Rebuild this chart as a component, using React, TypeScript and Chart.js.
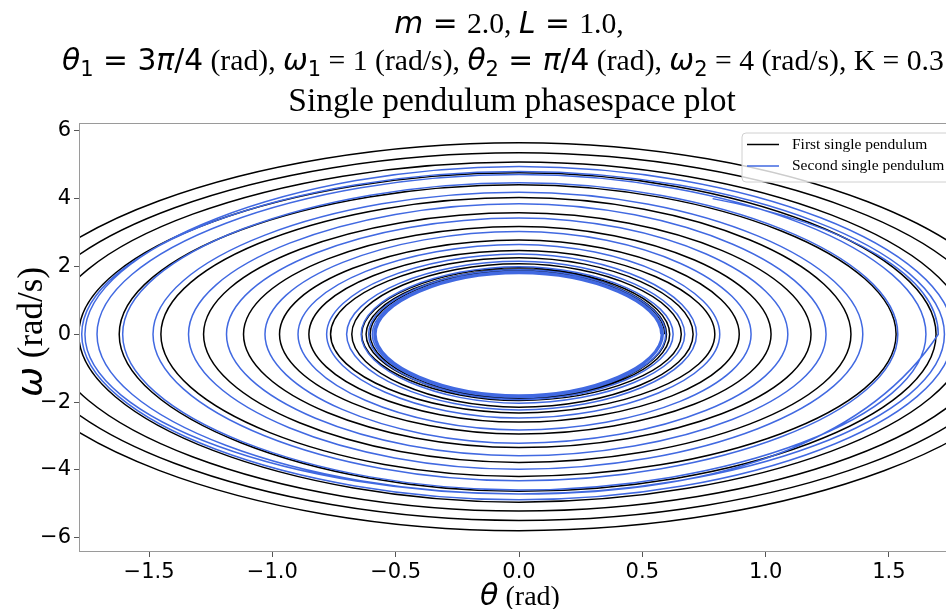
import React, { useEffect, useRef } from 'react';
import { Chart, registerables } from 'chart.js';

Chart.register(...registerables);

// ---------- axis ticks ----------
const X_TICKS = [-1.5, -1.0, -0.5, 0.0, 0.5, 1.0, 1.5];
const Y_TICKS = [-6, -4, -2, 0, 2, 4, 6];
const X_MIN = -1.78;
const X_MAX = 1.78;
const Y_MIN = -6.39;
const Y_MAX = 6.2;

// ---------- First single pendulum: successive turning points / axis crossings (theta, omega) ----------
const FIRST_THETA = [
  2.13, 0, -2.10, 0, 2.03, 0, -2.01, 0, 1.93, 0, -1.905, 0, 1.82, 0, -1.785, 0,
  1.691, 0, -1.621, 0, 1.529, 0, -1.452, 0, 1.346, 0, -1.279, 0, 1.184, 0, -1.117, 0,
  1.022, 0, -0.971, 0, 0.893, 0, -0.852, 0, 0.794, 0, -0.764, 0, 0.706, 0, -0.678, 0,
  0.658, 0, -0.638, 0, 0.611, 0, -0.62, 0, 0.598, 0, -0.604, 0, 0.591,
];
const FIRST_OMEGA = [
  0, -5.79, 0, 5.65, 0, -5.49, 0, 5.35, 0, -5.21, 0, 5.08, 0, -4.95, 0, 4.76,
  0, -4.63, 0, 4.41, 0, -4.19, 0, 4.03, 0, -3.78, 0, 3.58, 0, -3.34, 0, 3.18,
  0, -2.94, 0, 2.78, 0, -2.59, 0, 2.47, 0, -2.32, 0, 2.26, 0, -2.15, 0, 2.08,
  0, -1.95, 0, 1.96, 0, -1.90, 0, 1.91, 0, -1.87, 0, 1.88, 0,
];

// ---------- Second single pendulum ----------
const SECOND_THETA = [
  0.785, 1.70, 0, -1.76, 0, 1.76, 0, -1.773, 0, 1.725, 0, -1.711, 0, 1.650, 0, -1.607, 0,
  1.536, 0, -1.484, 0, 1.394, 0, -1.340, 0, 1.245, 0, -1.186, 0, 1.090, 0, -1.030, 0,
  0.941, 0, -0.896, 0, 0.814, 0, -0.780, 0, 0.72, 0, -0.699, 0, 0.672, 0, -0.64, 0,
  0.625, 0, -0.61, 0, 0.595, 0, -0.595, 0, 0.585, 0, -0.588, 0, 0.58, 0, -0.584, 0,
  0.577, 0, -0.58, 0, 0.575,
];
const SECOND_OMEGA = [
  4.0, 0, -4.71, 0, 4.95, 0, -4.88, 0, 4.80, 0, -4.71, 0, 4.71, 0, -4.59, 0, 4.47,
  0, -4.32, 0, 4.19, 0, -3.98, 0, 3.85, 0, -3.58, 0, 3.43, 0, -3.21, 0, 3.03,
  0, -2.82, 0, 2.65, 0, -2.47, 0, 2.37, 0, -2.23, 0, 2.15, 0, -2.03, 0, 1.99,
  0, -1.92, 0, 1.90, 0, -1.86, 0, 1.85, 0, -1.83, 0, 1.82, 0, -1.81, 0, 1.80,
  0, -1.79, 0, 1.79, 0,
];

const SERIES_NAMES = ['First single pendulum', 'Second single pendulum'];
const SERIES_COLORS = ['#000000', '#4169e1'];

const SERIF = '"Liberation Serif", "Times New Roman", serif';
const SANS = '"DejaVu Sans", sans-serif';
const TENSION = 0.52;

type Seg = { t: string; f: string; dy?: number };

const T_SIZE = 29.7;
const MI = `italic ${T_SIZE}px ${SANS}`;
const MS = `${T_SIZE}px ${SANS}`;
const SUB = `${Math.round(T_SIZE * 0.7)}px ${SANS}`;
const SR = `${T_SIZE}px ${SERIF}`;

const TITLE_1: Seg[] = [
  { t: 'm', f: MI }, { t: ' = ', f: MS }, { t: '2.0, ', f: SR },
  { t: 'L', f: MI }, { t: ' = ', f: MS }, { t: '1.0,', f: SR },
];
const TITLE_2: Seg[] = [
  { t: 'θ', f: MI }, { t: '1', f: SUB, dy: 6 }, { t: ' = 3', f: MS }, { t: 'π', f: MI }, { t: '/4', f: MS },
  { t: ' (rad), ', f: SR },
  { t: 'ω', f: MI }, { t: '1', f: SUB, dy: 6 }, { t: ' = 1 (rad/s), ', f: SR },
  { t: 'θ', f: MI }, { t: '2', f: SUB, dy: 6 }, { t: ' = ', f: MS }, { t: 'π', f: MI }, { t: '/4', f: MS },
  { t: ' (rad), ', f: SR },
  { t: 'ω', f: MI }, { t: '2', f: SUB, dy: 6 }, { t: ' = 4 (rad/s), K = 0.3', f: SR },
];
const TITLE_3: Seg[] = [{ t: 'Single pendulum phasespace plot', f: `33.5px ${SERIF}` }];
const X_LABEL: Seg[] = [{ t: 'θ', f: `italic 30px ${SANS}` }, { t: ' (rad)', f: `28px ${SERIF}` }];
const Y_LABEL: Seg[] = [{ t: 'ω', f: `italic 36px ${SANS}` }, { t: ' (rad/s)', f: `35px ${SERIF}` }];

function drawRich(ctx: CanvasRenderingContext2D, segs: Seg[], cx: number, y: number) {
  let w = 0;
  for (const s of segs) {
    ctx.font = s.f;
    w += ctx.measureText(s.t).width;
  }
  let x = cx - w / 2;
  ctx.textAlign = 'left';
  ctx.textBaseline = 'alphabetic';
  for (const s of segs) {
    ctx.font = s.f;
    ctx.fillText(s.t, x, y + (s.dy || 0));
    x += ctx.measureText(s.t).width;
  }
}

function toPoints(xs: number[], ys: number[]) {
  return xs.map((x, i) => ({ x, y: ys[i] }));
}

const fmt = (v: number, d: number) => (v < 0 ? '\u2212' : '') + Math.abs(v).toFixed(d);

// Gives the open ends of each spiral the tangent of the orbit they lie on.
const tangentPlugin = {
  id: 'startTangent',
  beforeDatasetsDraw(chart: any) {
    const area = chart.chartArea;
    const xc = chart.scales.x.getPixelForValue(0);
    const yc = chart.scales.y.getPixelForValue(0);
    chart.data.datasets.forEach((ds: any, i: number) => {
      const meta = chart.getDatasetMeta(i);
      const line = meta.dataset;
      if (!line) return;
      line.updateControlPoints(area, 'x');
      const pts = line.points;
      const p0 = pts[0];
      const p1 = pts[1];
      if (ds.startKind === 'vertex') {
        p0.cp2x = p0.x;
        p0.cp2y = p0.y + TENSION * (p1.y - p0.y);
      } else {
        const a = p1.x - xc;
        const s = Math.min(0.999, (p0.x - xc) / a);
        const t = Math.asin(s);
        const b = (yc - p0.y) / Math.cos(t);
        const k = (4 / 3) * Math.tan((Math.PI / 2 - t) / 4);
        p0.cp2x = p0.x + k * a * Math.cos(t);
        p0.cp2y = p0.y + k * b * Math.sin(t);
        p1.cp1x = p1.x;
        p1.cp1y = p1.y - k * b;
      }
      const pn = pts[pts.length - 1];
      const pp = pts[pts.length - 2];
      pn.cp1x = pn.x;
      pn.cp1y = pn.y + TENSION * (pp.y - pn.y);
    });
  },
};

const decorPlugin = {
  id: 'decor',
  afterDraw(chart: any) {
    const ctx: CanvasRenderingContext2D = chart.ctx;
    const a = chart.chartArea;
    ctx.save();
    // spines
    ctx.strokeStyle = '#9a9a9a';
    ctx.lineWidth = 1;
    ctx.strokeRect(a.left - 0.5, a.top - 0.5, a.right - a.left + 1, a.bottom - a.top + 1);
    // titles
    ctx.fillStyle = '#000';
    drawRich(ctx, TITLE_1, 509, 33);
    drawRich(ctx, TITLE_2, 503, 70);
    drawRich(ctx, TITLE_3, 512, 111);
    // axis labels
    drawRich(ctx, X_LABEL, 520, 605);
    ctx.save();
    ctx.translate(42, 332);
    ctx.rotate(-Math.PI / 2);
    drawRich(ctx, Y_LABEL, 0, 0);
    ctx.restore();
    // legend
    const lx = 742, ly = 133, lw = 208, lh = 49, r = 4;
    ctx.beginPath();
    ctx.moveTo(lx + r, ly);
    ctx.lineTo(lx + lw - r, ly);
    ctx.arcTo(lx + lw, ly, lx + lw, ly + r, r);
    ctx.lineTo(lx + lw, ly + lh - r);
    ctx.arcTo(lx + lw, ly + lh, lx + lw - r, ly + lh, r);
    ctx.lineTo(lx + r, ly + lh);
    ctx.arcTo(lx, ly + lh, lx, ly + lh - r, r);
    ctx.lineTo(lx, ly + r);
    ctx.arcTo(lx, ly, lx + r, ly, r);
    ctx.closePath();
    ctx.fillStyle = 'rgba(255,255,255,0.8)';
    ctx.fill();
    ctx.strokeStyle = '#d0d0d0';
    ctx.stroke();
    SERIES_NAMES.forEach((name, i) => {
      const y = 144.5 + i * 21.5;
      ctx.strokeStyle = SERIES_COLORS[i];
      ctx.lineWidth = 1.5;
      ctx.beginPath();
      ctx.moveTo(747, y);
      ctx.lineTo(779, y);
      ctx.stroke();
      ctx.fillStyle = '#000';
      ctx.font = `15.5px ${SERIF}`;
      ctx.textAlign = 'left';
      ctx.textBaseline = 'middle';
      ctx.fillText(name, 792, y);
    });
    ctx.restore();
  },
};

export default function App() {
  const ref = useRef<HTMLCanvasElement>(null);
  useEffect(() => {
    const canvas = ref.current;
    if (!canvas) return;
    const chart = new Chart(canvas, {
      type: 'line',
      data: {
        datasets: [
          {
            label: SERIES_NAMES[1],
            data: toPoints(SECOND_THETA, SECOND_OMEGA),
            borderColor: SERIES_COLORS[1],
            startKind: 'arc',
          } as any,
          {
            label: SERIES_NAMES[0],
            data: toPoints(FIRST_THETA, FIRST_OMEGA),
            borderColor: SERIES_COLORS[0],
            startKind: 'vertex',
          } as any,
        ],
      },
      options: {
        responsive: false,
        animation: false,
        devicePixelRatio: 1,
        events: [],
        layout: { padding: { left: 0, top: 124, right: 12, bottom: 0 } },
        elements: {
          point: { radius: 0 },
          line: { tension: TENSION, borderWidth: 1.5, capBezierPoints: false, fill: false },
        },
        plugins: { legend: { display: false }, tooltip: { enabled: false }, title: { display: false } },
        scales: {
          x: {
            type: 'linear',
            min: X_MIN,
            max: X_MAX,
            afterFit: (s: any) => { s.height = 58; },
            afterBuildTicks: (s: any) => { s.ticks = X_TICKS.map((v) => ({ value: v })); },
            grid: { display: true, drawOnChartArea: false, drawTicks: true, tickLength: 6, tickColor: '#555', color: '#555' },
            border: { display: false },
            ticks: {
              color: '#000',
              padding: 3,
              maxRotation: 0,
              autoSkip: false,
              font: { family: SANS, size: 21 },
              callback: (v: any) => fmt(Number(v), 1),
            },
          },
          y: {
            type: 'linear',
            min: Y_MIN,
            max: Y_MAX,
            afterFit: (s: any) => { s.width = 80; },
            afterBuildTicks: (s: any) => { s.ticks = Y_TICKS.map((v) => ({ value: v })); },
            grid: { display: true, drawOnChartArea: false, drawTicks: true, tickLength: 6, tickColor: '#555', color: '#555' },
            border: { display: false },
            ticks: {
              color: '#000',
              padding: 3,
              autoSkip: false,
              font: { family: SANS, size: 21 },
              callback: (v: any) => fmt(Number(v), 0),
            },
          },
        },
      } as any,
      plugins: [tangentPlugin, decorPlugin],
    });
    return () => chart.destroy();
  }, []);
  return (
    <div style={{ position: 'fixed', left: 0, top: 0, width: 946, height: 609, overflow: 'hidden', background: '#fff' }}>
      <canvas ref={ref} width={970} height={609} style={{ display: 'block', width: 970, height: 609 }} />
    </div>
  );
}
